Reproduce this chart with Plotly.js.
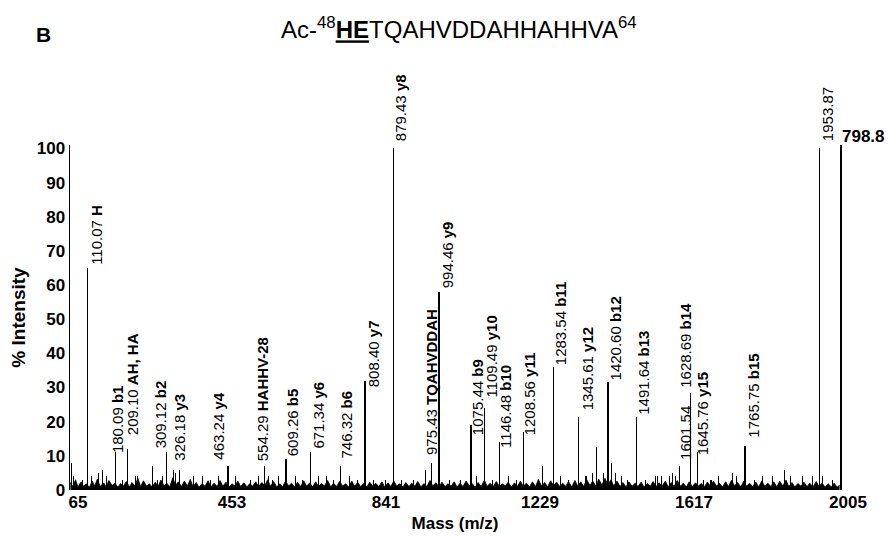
<!DOCTYPE html>
<html><head><meta charset="utf-8">
<script src="https://cdn.plot.ly/plotly-3.0.1.min.js"></script>
<style>html,body{margin:0;padding:0;background:#fff}#chart{width:889px;height:536px}</style>
</head><body><div id="chart"></div>
<script>
// ---- data ----
const peakMz = [110.07,180.09,209.10,309.12,326.18,463.24,554.29,609.26,671.34,746.32,808.40,879.43,975.43,994.46,1075.44,1109.49,1146.48,1208.56,1283.54,1345.61,1420.60,1491.64,1601.54,1628.69,1645.76,1765.75,1953.87];
const peakIntensity = [65,11,12,11,6,7,7,9,11,7,32,100,8,58,19,24,14,17,36,21.5,31.5,21.5,7,28.5,11,13,100];
const ionNames = ["H","b1","AH, HA","b2","y3","y4","HAHHV-28","b5","y6","b6","y7","y8","TQAHVDDAH","y9","b9","y10","b10","y11","b11","y12","b12","b13","","b14","y15","b15",""];

const minorMz = [68,75,96,120,136,148,157,198,230,236,274,286,298,330,342,375,398,420,440,482,520,540,565,576,590,634,650,690,712,730,770,790,830,860,900,930,961,1020,1050,1090,1130,1170,1190,1256,1300,1320,1365,1382,1392,1410,1430,1440,1455,1470,1515,1540,1546,1555,1575,1584,1590,1660,1680,1700,1735,1745,1790,1810,1836,1866,1880,1911,1935,1960,1985];
const minorIntensity = [8,4,3,4,5,6,4,3,4,4,7,3,4,5,6,4,4,3,4,4,3,4,4,3,4,4,3,4,4,3,4,3,3,3,3,3,6,3,3,4,3,4,3,7,4,3,4,5,12.5,5,8,5,4,3,3,4,4,4,4,5,4,3,3,4,5,4,3,4,4,6,4,4,4,4,3];

const noiseMz = [66,72,79,85,93,99,106,114,121,127,
134,141,150,156,163,171,178,186,192,199,
207,215,221,228,236,243,250,258,265,272,
280,287,294,302,309,316,324,331,338,346,
353,361,368,375,383,390,398,405,413,420,
428,436,443,450,458,466,473,480,488,495,
503,511,518,525,533,540,548,556,563,570,
578,586,593,601,608,616,623,631,638,646,
654,661,669,676,684,691,699,706,714,722,
729,737,744,752,760,767,775,782,790,797,
805,813,820,828,835,843,851,858,866,873,
881,888,896,904,911,919,926,934,941,949,
957,964,972,979,987,995,1002,1010,1017,1025,
1033,1040,1048,1055,1063,1071,1078,1086,1093,1101,
1109,1116,1124,1131,1139,1147,1154,1162,1169,1177,
1185,1192,1200,1207,1215,1223,1230,1238,1245,1253,
1261,1268,1276,1283,1291,1299,1306,1314,1321,1329,
1337,1344,1352,1359,1367,1375,1382,1390,1397,1405,
1413,1420,1428,1435,1443,1451,1458,1466,1473,1481,
1489,1496,1504,1511,1519,1527,1534,1542,1549,1557,
1565,1572,1580,1587,1595,1603,1610,1618,1625,1633,
1641,1648,1656,1663,1671,1679,1686,1694,1701,1709,
1717,1724,1732,1739,1747,1755,1762,1770,1777,1785,
1793,1800,1808,1815,1823,1831,1838,1846,1853,1861,
1869,1876,1884,1891,1899,1907,1914,1922,1929,1937,
1945,1952,1960,1967,1975,1983,1990,1998,2004];
const noiseIntensity = [2.2,1.0,3.0,0.9,2.4,1.1,1.8,0.8,2.6,1.2,
3.2,1.0,2.1,0.9,2.8,1.3,2.0,0.8,1.9,1.1,
2.5,0.9,2.2,1.2,3.4,1.0,2.7,1.1,1.8,0.9,
2.3,1.0,2.9,1.2,2.0,0.9,3.6,1.4,2.4,1.0,
2.6,1.2,3.1,1.0,2.2,0.8,1.9,1.1,2.7,0.9,
2.0,1.0,2.8,1.1,2.3,0.9,1.8,1.2,2.6,1.0,
2.1,0.9,1.9,1.1,2.4,1.0,2.2,1.3,3.0,1.1,
2.5,0.9,1.8,1.0,2.6,1.2,2.0,0.8,2.3,1.0,
2.7,1.1,2.1,0.9,2.4,1.0,1.9,1.2,2.8,0.9,
2.0,1.0,2.5,1.2,1.8,0.9,2.6,1.1,2.2,1.0,
1.9,0.9,2.3,1.1,2.0,1.0,2.4,0.8,2.1,1.0,
2.6,1.2,1.8,0.9,2.2,1.0,2.0,1.1,2.5,0.9,
1.9,1.0,2.8,1.2,2.1,0.9,2.3,1.0,1.8,1.1,
2.4,0.9,2.0,1.0,2.6,1.2,1.9,0.8,2.2,1.0,
2.9,1.1,2.0,0.9,2.5,1.0,1.8,1.2,2.3,0.9,
2.1,1.0,2.6,1.1,2.0,0.9,2.4,1.0,3.1,1.2,
2.2,0.9,2.7,1.3,2.3,1.0,2.0,1.1,2.5,0.9,
2.8,1.2,2.4,1.0,3.0,1.3,2.6,1.1,3.2,1.4,
3.4,1.5,3.0,1.2,2.6,1.0,2.2,0.9,2.4,1.1,
2.0,1.0,2.3,0.9,1.9,1.1,2.5,1.0,2.1,1.2,
2.6,0.9,2.2,1.0,2.8,1.1,2.0,0.9,2.4,1.0,
2.1,1.2,1.9,0.9,2.3,1.0,2.6,1.1,2.0,0.9,
2.4,1.0,2.9,1.2,2.2,0.9,2.5,1.1,2.0,1.0,
2.3,0.9,2.7,1.1,2.0,1.0,2.4,0.9,2.6,1.2,
2.9,1.0,2.2,0.9,1.9,1.1,2.3,1.0,2.0,0.9,
2.5,1.0,2.1,0.8,1.8,0.9,2.0,0.8,1.5];

const xTickVals = [65,453,841,1229,1617,2005];
const yTickVals = [0,10,20,30,40,50,60,70,80,90,100];
const baseIntensityLabel = "798.8";
const titleText = 'Ac-<sup>48</sup><b><u>HE</u></b>TQAHVDDAHHAHHVA<sup>64</sup>';

// ---- label placement (px offsets, layout only) ----
const labelShift = [[9,1],[2,-3],[5,12],[-6,2],[5,7],[-9,4],[-2,3],[6,1],[8,2],[6,6],[8,-9],[8,5],[0,6],[8,2],[6,-12],[6,8],[6,-8],[6,-5],[7,0],[9,4],[7,0],[7,0],[5,4],[-5,3],[6,-5],[9,6],[8,5]];

const FONT = 'Liberation Sans, Arial, Helvetica, sans-serif';

const traces = [
  {type:'scatter', x:noiseMz, y:noiseIntensity, mode:'lines', fill:'tozeroy',
   line:{color:'#000', width:0.8}, fillcolor:'#000', hoverinfo:'skip', showlegend:false},
  {type:'bar', x:minorMz, y:minorIntensity, width:2.6, marker:{color:'#000', line:{width:0}}, showlegend:false},
  {type:'bar', x:peakMz, y:peakIntensity, width:3.0, marker:{color:'#000', line:{width:0}}, showlegend:false}
];

const annotations = peakMz.map((mz, i) => ({
  x: mz, y: peakIntensity[i], xref:'x', yref:'y', showarrow:false,
  text: ionNames[i] ? mz.toFixed(2) + ' <b>' + ionNames[i] + '</b>' : mz.toFixed(2),
  textangle: -90, xanchor:'center', yanchor:'bottom',
  xshift: labelShift[i][0], yshift: labelShift[i][1],
  font:{family:FONT, size:15, color:'#000'}
}));
annotations.push({x:2005, y:101, xref:'x', yref:'y', showarrow:false, text:baseIntensityLabel,
  xanchor:'left', yanchor:'middle', yshift:9, font:{family:FONT, size:17, color:'#000', weight:'bold'}});
annotations.push({x:-0.034, y:1.319, xref:'paper', yref:'paper', showarrow:false, text:'B',
  xanchor:'center', yanchor:'middle', font:{family:FONT, size:21, color:'#000', weight:'bold'}});

const layout = {
  width:889, height:536,
  margin:{l:70, r:49, t:145, b:46},
  paper_bgcolor:'#fff', plot_bgcolor:'#fff',
  barmode:'overlay', bargap:0,
  showlegend:false,
  font:{family:FONT, color:'#000'},
  title:{text:titleText, x:0.505, xanchor:'center', xref:'paper', y:1-30/536, yref:'container', yanchor:'middle',
    font:{family:FONT, size:24, color:'#000'}},
  xaxis:{range:[65,2005], tickvals:xTickVals, ticktext:xTickVals.map(String), showgrid:false, zeroline:false,
    showline:false, ticks:'', ticklabelshift:8,
    tickfont:{family:FONT, size:17, color:'#000', weight:'bold'},
    title:{text:'Mass (m/z)', font:{family:FONT, size:17, color:'#000', weight:'bold'}, standoff:6}},
  yaxis:{range:[0,101], tickvals:yTickVals, ticktext:yTickVals.map(String), showgrid:false, zeroline:false,
    showline:true, linecolor:'#000', linewidth:1.5, mirror:true, ticks:'',
    tickfont:{family:FONT, size:17, color:'#000', weight:'bold'},
    title:{text:'% Intensity', font:{family:FONT, size:19, color:'#000', weight:'bold'}, standoff:6}},
  annotations: annotations
};

Plotly.newPlot('chart', traces, layout, {displayModeBar:false, staticPlot:true});
</script>
</body></html>
